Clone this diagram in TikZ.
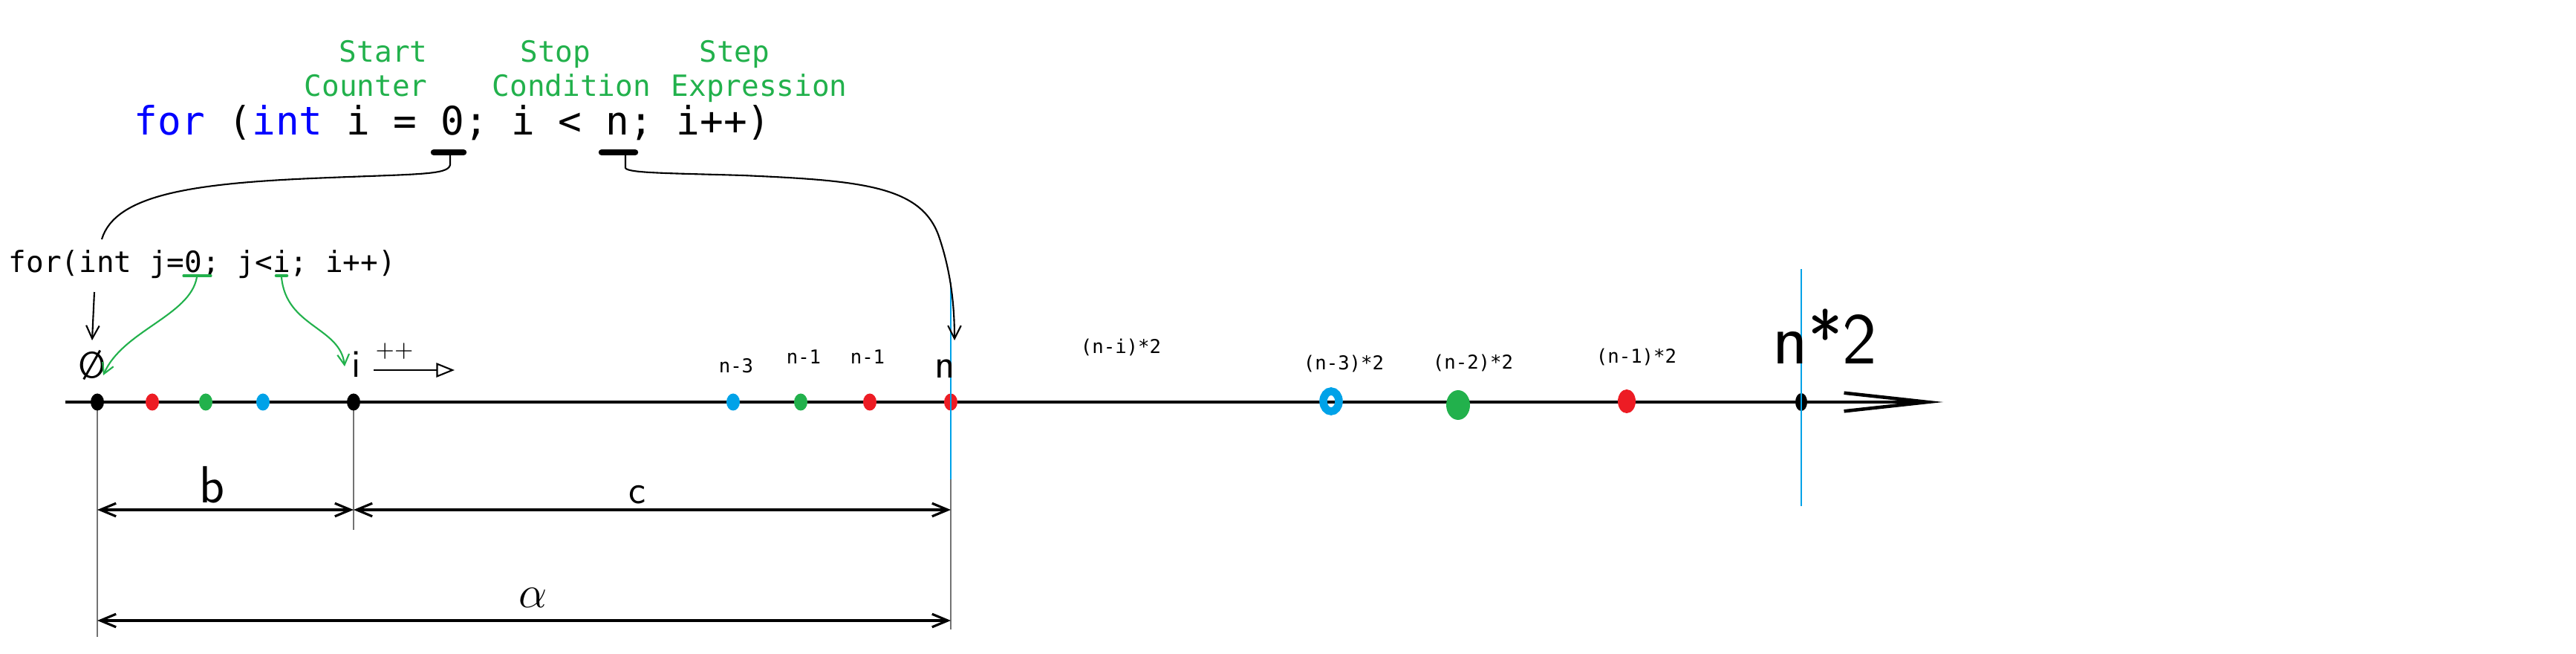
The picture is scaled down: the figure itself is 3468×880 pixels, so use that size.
\documentclass[tikz,border=0pt]{standalone}
\usepackage{fontspec}
\setmonofont{DejaVu Sans Mono}
\usetikzlibrary{arrows.meta}
\definecolor{kwblue}{RGB}{0,0,255}
\definecolor{hintgreen}{RGB}{34,177,76}
\definecolor{dotred}{RGB}{237,28,36}
\definecolor{dotblue}{RGB}{0,162,232}
\begin{document}
\begin{tikzpicture}[
  x=0.1mm, y=-0.1mm,
  code/.style={inner sep=0pt, anchor=base west, font=\fontsize{15}{18}\selectfont\ttfamily\frenchspacing},
  loopcode/.style={inner sep=0pt, anchor=base west, font=\fontsize{11.2}{13.4}\selectfont\ttfamily\frenchspacing},
  hint/.style={inner sep=0pt, anchor=north west, align=left, text=hintgreen, font=\fontsize{11.2}{13}\selectfont\ttfamily},
  tag/.style={inner sep=0pt, font=\fontsize{7.3}{8}\selectfont\ttfamily},
  hand/.style={inner sep=0pt, font=\fontsize{#1}{#1}\selectfont\sffamily},
  hand/.default=15,
  wire/.style={line width=0.6pt},
  gwire/.style={hintgreen, line width=0.6pt, -{Straight Barb[length=4pt,width=4.5pt]}},
  ext/.style={black!55, line width=0.3pt},
  dim/.style={line width=0.9pt, {Straight Barb[length=6pt,width=5pt]}-{Straight Barb[length=6pt,width=5pt]}},
  guide/.style={dotblue, line width=0.6pt}
]
\useasboundingbox (0,0) rectangle (3468,880);

\node[code] (code) at (180,182) {\textcolor{kwblue}{for} (\textcolor{kwblue}{int} i = 0; i < n; i++)};
\node[hint] (startHint) at (409,54) {\hspace*{1.2em}Start\\Counter};
\node[hint] (stopHint) at (662,54) {\hspace*{0.96em}Stop\\Condition};
\node[hint] (stepHint) at (903,54) {\hspace*{0.96em}Step\\Expression};
\coordinate (zeroMark) at (606,206);
\coordinate (nMark) at (842,206);
\draw[line width=2.4pt, line cap=round] (584,205) -- (624,205);
\draw[line width=2.4pt, line cap=round] (810,205) -- (855,205);

\node[loopcode] (inner) at (11,367) {for(int j=0; j<i; i++)};
\coordinate (innerTop) at (137,322);
\coordinate (innerDown) at (127,393);
\coordinate (jZeroMark) at (265,373);
\coordinate (jIMark) at (379,373);
\draw[hintgreen, line width=0.9pt, line cap=round] (247,371) -- (284,371);
\draw[hintgreen, line width=1.3pt, line cap=round] (372,371) -- (386,371);

\coordinate (axisL) at (88,541);
\coordinate (axisR) at (2616,541);
\draw[line width=1.3pt, -{Straight Barb[length=32pt,width=7pt]}] (axisL) -- (axisR);
\coordinate (p0) at (131,541);
\coordinate (pI) at (476,541);
\coordinate (pN) at (1280,541);
\coordinate (pNN) at (2425,541);
\draw[ext] (p0) -- (131,857);
\draw[ext] (pI) -- (476,713);
\draw[ext] (pN) -- (1280,847);
\draw[ext] (pNN) -- (2425,572);

\foreach \x/\c in {131/black,205/dotred,277/hintgreen,354/dotblue,476/black,987/dotblue,1078/hintgreen,1171/dotred,1280/dotred}
  \fill[\c] (\x,541) ellipse [x radius=0.9mm, y radius=1.15mm];
\draw[dotblue, line width=3pt] (1792,540) ellipse [x radius=1.05mm, y radius=1.35mm];
\fill[hintgreen] (1963,545) ellipse [x radius=1.6mm, y radius=2mm];
\fill[dotred] (2190,540) ellipse [x radius=1.2mm, y radius=1.6mm];
\fill (pNN) ellipse [x radius=0.8mm, y radius=1.2mm];
\draw[guide] (1280,380) -- (1280,645);
\draw[guide] (2425,362) -- (2425,681);

\coordinate (b0) at (131,686);
\coordinate (b1) at (476,686);
\coordinate (c1) at (1280,686);
\coordinate (a0) at (131,835);
\coordinate (a1) at (1280,835);
\draw[dim] (b0) -- (b1);
\draw[dim] (b1) -- (c1);
\draw[dim] (a0) -- (a1);
\node[hand=20] (bLbl) at (286,652) {b};
\node[hand=15] (cLbl) at (858,666) {c};
\node[hand=18] (aLbl) at (718,804) {$\alpha$};

\node[hand=14] (zeroLbl) at (124,491) {\O};
\node[hand=15] (iLbl) at (480,490) {i};
\node[hand=9] (incLbl) at (531,473) {++};
\node[hand=16] (nLbl) at (1272,496) {n};
\node[hand=28, anchor=base west] (nnLbl) at (2386,490) {n*2};
\coordinate (incStart) at (503,498);
\coordinate (incEnd) at (612,498);
\draw[line width=0.6pt, -{Triangle[open,length=7pt,width=5.5pt]}] (incStart) -- (incEnd);

\node[tag] (tagA) at (991,492) {n-3};
\node[tag] (tagB) at (1082,480) {n-1};
\node[tag] (tagC) at (1168,480) {n-1};
\node[tag] (tagD) at (1509,467) {(n-i)*2};
\node[tag] (tagE) at (1809,489) {(n-3)*2};
\node[tag] (tagF) at (1983,488) {(n-2)*2};
\node[tag] (tagG) at (2203,480) {(n-1)*2};

\draw[wire] (zeroMark) -- (606,222) .. controls (603,236) and (560,234) .. (420,240) .. controls (260,247) and (155,262) .. (innerTop);
\coordinate (nTip) at (1285,458);
\draw[wire, -{Straight Barb[length=5pt,width=5pt]}] (nMark) -- (842,226) .. controls (845,233) and (900,233) .. (1000,236) .. controls (1160,243) and (1240,250) .. (1264,318) .. controls (1280,365) and (1285,410) .. (nTip);
\coordinate (zeroTip) at (124,458);
\draw[wire, -{Straight Barb[length=5pt,width=5pt]}] (innerDown) -- (zeroTip);
\coordinate (zeroGreenTip) at (139,505);
\draw[gwire] (jZeroMark) .. controls (256,425) and (165,445) .. (zeroGreenTip);
\coordinate (iGreenTip) at (464,493);
\draw[gwire] (jIMark) .. controls (385,440) and (458,440) .. (iGreenTip);
\end{tikzpicture}
\end{document}
